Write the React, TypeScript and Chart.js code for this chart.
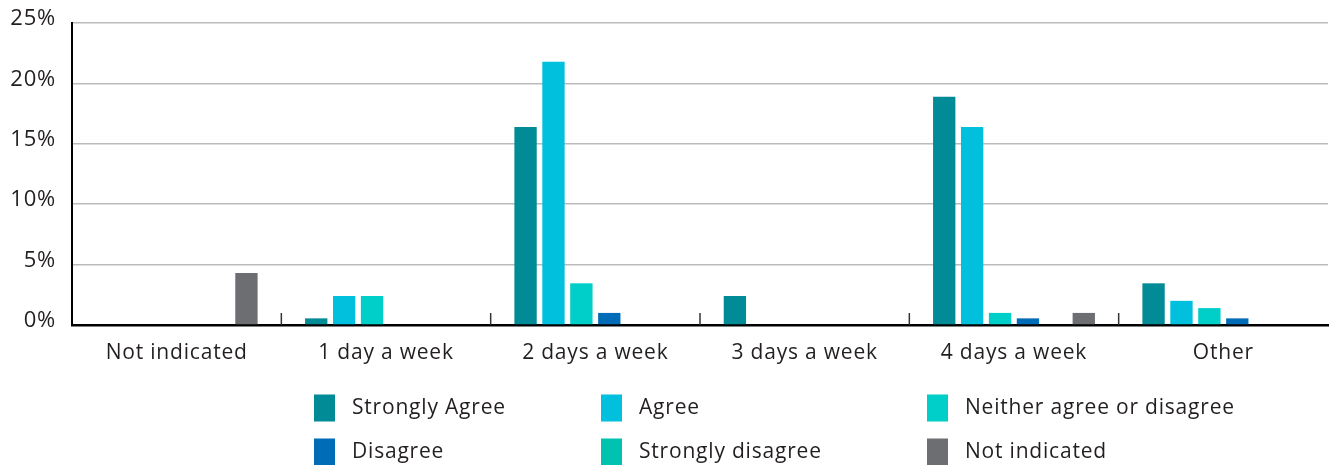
import React, { useEffect, useRef } from "react";
import { Chart, registerables } from "chart.js";

Chart.register(...registerables);

const categories = ["Not indicated", "1 day a week", "2 days a week", "3 days a week", "4 days a week", "Other"];
const seriesNames = ["Strongly Agree", "Agree", "Neither agree or disagree", "Disagree", "Strongly disagree", "Not indicated"];
const seriesColors = ["#008B96", "#00C0DE", "#00CEC8", "#006CB7", "#00C2B0", "#6D6E71"];

const stronglyAgree = [0, 0.55, 16.4, 2.4, 18.9, 3.45];
const agree = [0, 2.4, 21.8, 0, 16.4, 2.0];
const neither = [0, 2.4, 3.45, 0, 1.0, 1.4];
const disagree = [0, 0, 1.0, 0, 0.55, 0.55];
const stronglyDisagree = [0, 0, 0, 0, 0, 0];
const notIndicated = [4.3, 0, 0, 0, 1.0, 0];

const yTicks = [0, 5, 10, 15, 20, 25];

const seriesValues = [stronglyAgree, agree, neither, disagree, stronglyDisagree, notIndicated];

const FONT = "'Open Sans', 'Noto Sans', sans-serif";
const SPACING = "0.8px";

const letterSpacing = {
  id: "letterSpacing",
  beforeInit(chart: any) {
    chart.ctx.letterSpacing = SPACING;
  },
  beforeUpdate(chart: any) {
    chart.ctx.letterSpacing = SPACING;
  },
  beforeDraw(chart: any) {
    chart.ctx.letterSpacing = SPACING;
  },
};

const boundaryTicks = {
  id: "boundaryTicks",
  afterDatasetsDraw(chart: any) {
    const x = chart.scales.x;
    const bottom = chart.chartArea.bottom;
    const ctx = chart.ctx;
    ctx.save();
    ctx.strokeStyle = "#333333";
    ctx.lineWidth = 1.5;
    for (let i = 1; i < categories.length; i++) {
      const px = (x.getPixelForTick(i - 1) + x.getPixelForTick(i)) / 2;
      ctx.beginPath();
      ctx.moveTo(px, bottom - 12);
      ctx.lineTo(px, bottom);
      ctx.stroke();
    }
    ctx.restore();
  },
};

const gridLegend = {
  id: "gridLegend",
  afterDraw(chart: any) {
    const ctx = chart.ctx;
    const cols = [314, 601, 927];
    const rows = [408, 452];
    ctx.save();
    ctx.letterSpacing = SPACING;
    ctx.font = `21px ${FONT}`;
    ctx.textBaseline = "middle";
    ctx.textAlign = "left";
    chart.data.datasets.forEach((ds: any, i: number) => {
      const cx = cols[i % 3];
      const cy = rows[Math.floor(i / 3)];
      ctx.fillStyle = ds.backgroundColor;
      ctx.fillRect(cx, cy - 13.5, 21, 27);
      ctx.fillStyle = "#231F20";
      ctx.fillText(ds.label, cx + 38, cy);
    });
    ctx.restore();
  },
};

export default function App() {
  const ref = useRef<HTMLCanvasElement>(null);
  useEffect(() => {
    document.body.style.margin = "0";
    const chart = new Chart(ref.current!, {
      type: "bar",
      data: {
        labels: categories,
        datasets: seriesNames.map((name, i) => ({
          label: name,
          data: seriesValues[i],
          backgroundColor: seriesColors[i],
          borderWidth: 0,
          categoryPercentage: 0.8,
          barPercentage: 0.8,
        })),
      },
      options: {
        animation: false,
        responsive: false,
        maintainAspectRatio: false,
        layout: { padding: { top: 23, right: 3, left: 0, bottom: 0 } },
        plugins: { legend: { display: false }, tooltip: { enabled: false } },
        scales: {
          x: {
            grid: { display: false, drawTicks: false },
            border: { display: true, color: "#000000", width: 2.5 },
            ticks: {
              color: "#231F20",
              font: { family: FONT, size: 21 },
              padding: 15,
              maxRotation: 0,
              autoSkip: false,
            },
            afterFit(scale: any) {
              scale.height = 140;
              scale.paddingLeft = 0;
              scale.paddingRight = 0;
            },
          },
          y: {
            min: 0,
            max: 25,
            afterBuildTicks(scale: any) {
              scale.ticks = yTicks.map((v) => ({ value: v }));
            },
            grid: { color: "#BBBBBB", lineWidth: 1.5, drawTicks: false },
            border: { display: true, color: "#000000", width: 2 },
            ticks: {
              color: "#231F20",
              font: { family: FONT, size: 22 },
              padding: 16,
              labelOffset: -4,
              callback: (v: any) => `${v}%`,
            },
            afterFit(scale: any) {
              scale.width = 72;
              scale.paddingTop = 0;
              scale.paddingBottom = 0;
            },
          },
        },
      },
      plugins: [letterSpacing, boundaryTicks, gridLegend],
    });
    return () => chart.destroy();
  }, []);
  return <canvas ref={ref} width={1331} height={465} style={{ display: "block" }} />;
}
